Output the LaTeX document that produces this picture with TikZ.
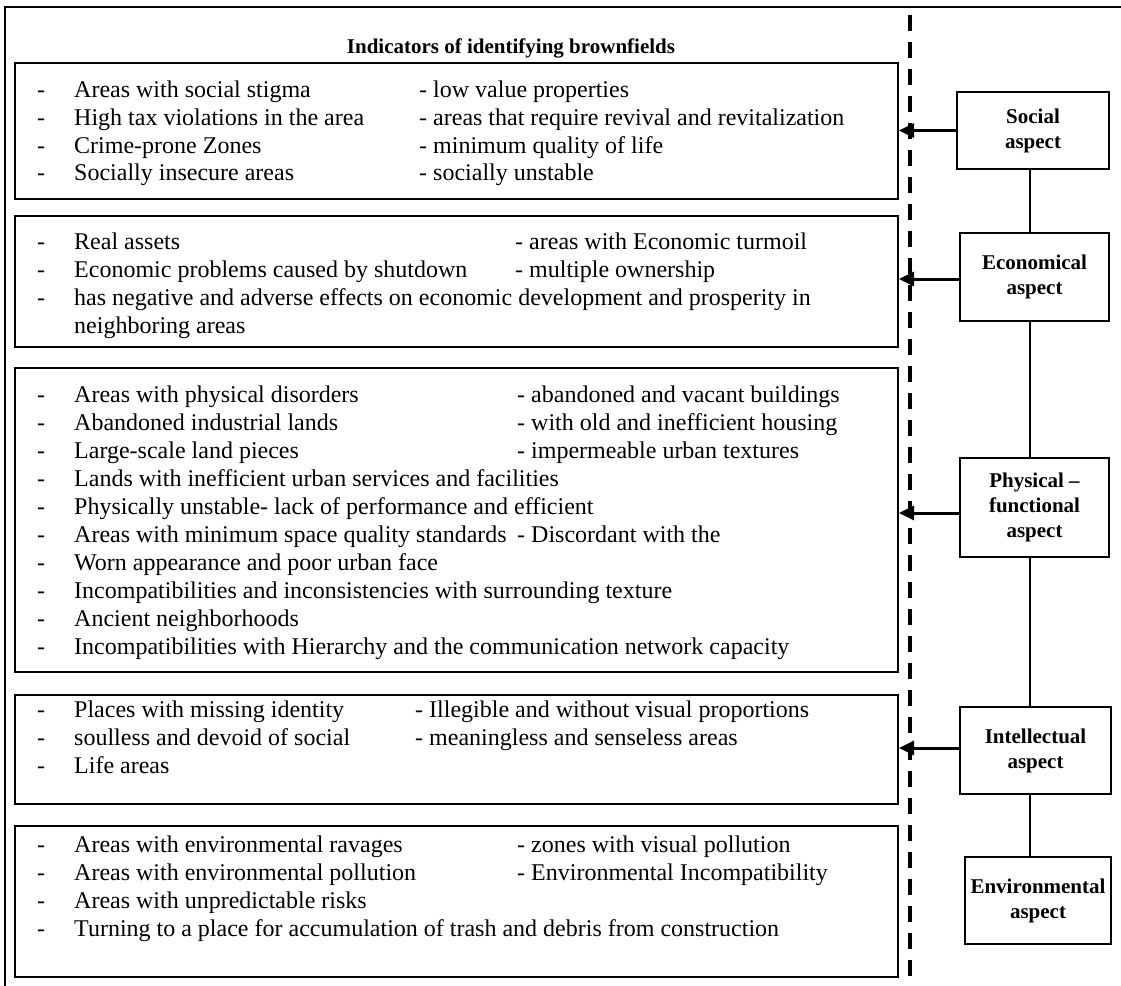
\documentclass[tikz,border=0pt]{standalone}
\usepackage{fontspec}
\setmainfont{Liberation Serif}
\usetikzlibrary{arrows.meta}
\begin{document}
\begin{tikzpicture}[x=1pt,y=-1pt,
  ibox/.style={draw, line width=2pt, minimum width=883pt, inner sep=0pt},
  abox/.style={draw, line width=2pt, fill=white, inner sep=0pt, align=center,
     font=\bfseries\fontsize{21}{25}\selectfont},
  txt/.style={anchor=base west, inner sep=0pt, font=\fontsize{24}{28}\selectfont},
  arr/.style={line width=3pt, -{Triangle[length=15pt,width=14pt]}},
  link/.style={line width=1.6pt},
  divider/.style={line width=3.5pt, dash pattern=on 16pt off 11pt}]
\useasboundingbox (0,0) rectangle (1121,985);
% outer frame
\coordinate (fbl) at (5,992);
\coordinate (ftl) at (5,7);
\coordinate (ftr) at (1130,7);
\draw[line width=1.6pt] (fbl) -- (ftl) -- (ftr);
% dashed divider
\coordinate (dtop) at (910,15);
\coordinate (dbot) at (910,990);
\draw[divider] (dtop) -- (dbot);
% title
\node[anchor=base, inner sep=0pt, font=\bfseries\fontsize{21}{25}\selectfont] (title) at (511,53) {Indicators of identifying brownfields};
% indicator boxes
\node[ibox, minimum height=136pt] (b1) at (456.5,131) {};
\node[ibox, minimum height=131pt] (b2) at (456.5,281.5) {};
\node[ibox, minimum height=304pt] (b3) at (456.5,520) {};
\node[ibox, minimum height=109pt] (b4) at (456.5,749.5) {};
\node[ibox, minimum height=151pt] (b5) at (456.5,901.5) {};
% box 1 text
\node[txt] (d11) at (37,97) {-};
\node[txt] (t11) at (74,97) {Areas with social stigma};
\node[txt] (u11) at (419,97) {- low value properties};
\node[txt] (d12) at (37,125) {-};
\node[txt] (t12) at (74,125) {High tax violations in the area};
\node[txt] (u12) at (419,125) {- areas that require revival and revitalization};
\node[txt] (d13) at (37,153) {-};
\node[txt] (t13) at (74,153) {Crime-prone Zones};
\node[txt] (u13) at (419,153) {- minimum quality of life};
\node[txt] (d14) at (37,180) {-};
\node[txt] (t14) at (74,180) {Socially insecure areas};
\node[txt] (u14) at (419,180) {- socially unstable};
% box 2 text
\node[txt] (d21) at (37,249) {-};
\node[txt] (t21) at (74,249) {Real assets};
\node[txt] (u21) at (515,249) {- areas with Economic turmoil};
\node[txt] (d22) at (37,277) {-};
\node[txt] (t22) at (74,277) {Economic problems caused by shutdown};
\node[txt] (u22) at (515,277) {- multiple ownership};
\node[txt] (d23) at (37,305) {-};
\node[txt] (t23) at (74,305) {has negative and adverse effects on economic development and prosperity in};
\node[txt] (t24) at (74,333) {neighboring areas};
% box 3 text
\node[txt] (d31) at (37,402) {-};
\node[txt] (t31) at (74,402) {Areas with physical disorders};
\node[txt] (u31) at (517,402) {- abandoned and vacant buildings};
\node[txt] (d32) at (37,430) {-};
\node[txt] (t32) at (74,430) {Abandoned industrial lands};
\node[txt] (u32) at (517,430) {- with old and inefficient housing};
\node[txt] (d33) at (37,458) {-};
\node[txt] (t33) at (74,458) {Large-scale land pieces};
\node[txt] (u33) at (517,458) {- impermeable urban textures};
\node[txt] (d34) at (37,486) {-};
\node[txt] (t34) at (74,486) {Lands with inefficient urban services and facilities};
\node[txt] (d35) at (37,514) {-};
\node[txt] (t35) at (74,514) {Physically unstable- lack of performance and efficient};
\node[txt] (d36) at (37,542) {-};
\node[txt] (t36) at (74,542) {Areas with minimum space quality standards};
\node[txt] (u36) at (517,542) {- Discordant with the};
\node[txt] (d37) at (37,570) {-};
\node[txt] (t37) at (74,570) {Worn appearance and poor urban face};
\node[txt] (d38) at (37,598) {-};
\node[txt] (t38) at (74,598) {Incompatibilities and inconsistencies with surrounding texture};
\node[txt] (d39) at (37,626) {-};
\node[txt] (t39) at (74,626) {Ancient neighborhoods};
\node[txt] (d310) at (37,654) {-};
\node[txt] (t310) at (74,654) {Incompatibilities with Hierarchy and the communication network capacity};
% box 4 text
\node[txt] (d41) at (37,717) {-};
\node[txt] (t41) at (74,717) {Places with missing identity};
\node[txt] (u41) at (415,717) {- Illegible and without visual proportions};
\node[txt] (d42) at (37,745) {-};
\node[txt] (t42) at (74,745) {soulless and devoid of social};
\node[txt] (u42) at (415,745) {- meaningless and senseless areas};
\node[txt] (d43) at (37,773) {-};
\node[txt] (t43) at (74,773) {Life areas};
% box 5 text
\node[txt] (d51) at (37,852) {-};
\node[txt] (t51) at (74,852) {Areas with environmental ravages};
\node[txt] (u51) at (517,852) {- zones with visual pollution};
\node[txt] (d52) at (37,880) {-};
\node[txt] (t52) at (74,880) {Areas with environmental pollution};
\node[txt] (u52) at (517,880) {- Environmental Incompatibility};
\node[txt] (d53) at (37,908) {-};
\node[txt] (t53) at (74,908) {Areas with unpredictable risks};
\node[txt] (d54) at (37,936) {-};
\node[txt] (t54) at (74,936) {Turning to a place for accumulation of trash and debris from construction};
% aspect boxes
\coordinate (spine) at (1030,0);
\node[abox, minimum width=152pt, minimum height=77pt] (social) at (1033,130.5) {Social\\aspect};
\node[abox, minimum width=149pt, minimum height=88pt] (econ) at (1034.5,277) {Economical\\aspect};
\node[abox, minimum width=149pt, minimum height=99pt] (phys) at (1034.5,507.5) {Physical --\\functional\\aspect};
\node[abox, minimum width=151pt, minimum height=87pt] (intel) at (1035.5,750.5) {Intellectual\\aspect};
\node[abox, minimum width=146pt, minimum height=87pt] (env) at (1038,900.5) {Environmental\\aspect};
% spine links
\draw[link] (social.south -| spine) -- (econ.north -| spine);
\draw[link] (econ.south -| spine) -- (phys.north -| spine);
\draw[link] (phys.south -| spine) -- (intel.north -| spine);
\draw[link] (intel.south -| spine) -- (env.north -| spine);
% arrows
\draw[arr] (social.west) -- (social.west -| b1.east);
\draw[arr] ([yshift=-2pt]econ.west) -- ([yshift=-2pt]econ.west -| b2.east);
\draw[arr] ([yshift=-5.5pt]phys.west) -- ([yshift=-5.5pt]phys.west -| b3.east);
\draw[arr] ([yshift=2.5pt]intel.west) -- ([yshift=2.5pt]intel.west -| b4.east);
\end{tikzpicture}
\end{document}
